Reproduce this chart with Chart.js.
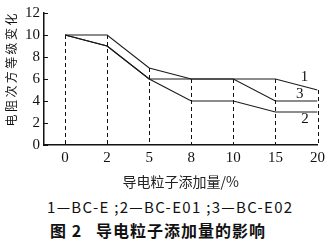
<!DOCTYPE html>
<html>
<head>
<meta charset="utf-8">
<script src="https://cdn.jsdelivr.net/npm/chart.js@4/dist/chart.umd.min.js"></script>
<style>
  body { margin: 0; background: #fff; width: 329px; height: 244px; overflow: hidden; }
  #wrap { position: relative; width: 329px; height: 190px; }
  .legend { position: absolute; left: 47px; top: 196px; font: 15px "Noto Sans CJK SC", sans-serif; letter-spacing: 1.3px; color: #111; white-space: nowrap; }
  .caption { position: absolute; left: 50px; top: 218px; font: bold 16px "Noto Sans CJK SC", sans-serif; letter-spacing: 1px; color: #111; white-space: nowrap; }
  .caption span { margin-left: 14px; }
</style>
</head>
<body>
<div id="wrap"><canvas id="chart" width="329" height="190"></canvas></div>
<div class="legend">1—BC-E ;2—BC-E01 ;3—BC-E02</div>
<div class="caption">图 2<span>导电粒子添加量的影响</span></div>
<script>
// x categories (additive amount, %) and the three curves
const categories = ['0', '2', '5', '8', '10', '15', '20'];
const bcE = [10, 10, 7, 6, 6, 6, 5];      // 1
const bcE01 = [10, 9, 6, 4, 4, 3, 3];     // 2
const bcE02 = [10, 9, 6, 6, 6, 4, 4];     // 3
const yTicks = [0, 2, 4, 6, 8, 10, 12];
// curve number labels near the right end: [text, x index, y value]
const curveLabels = [['1', 5.69, 6.2], ['3', 5.58, 4.6], ['2', 5.7, 2.4]];

const toPoints = arr => arr.map((v, i) => ({ x: i, y: v }));

// dashed drop lines from the top curve down to zero + inside y ticks + curve numbers
const extras = {
  id: 'extras',
  beforeDatasetsDraw(chart) {
    const { ctx, scales: { x, y } } = chart;
    ctx.save();
    ctx.strokeStyle = '#111';
    ctx.lineWidth = 1;
    ctx.setLineDash([4, 3]);
    categories.forEach((c, i) => {
      const top = Math.max(bcE[i], bcE01[i], bcE02[i]);
      const px = Math.round(x.getPixelForValue(i)) + 0.5;
      ctx.beginPath();
      ctx.moveTo(px, y.getPixelForValue(top));
      ctx.lineTo(px, y.getPixelForValue(0));
      ctx.stroke();
    });
    ctx.setLineDash([]);
    // y ticks pointing inward
    yTicks.forEach(v => {
      const py = Math.round(y.getPixelForValue(v)) + 0.5;
      ctx.beginPath();
      ctx.moveTo(x.left, py);
      ctx.lineTo(x.left + 4, py);
      ctx.stroke();
    });
    ctx.restore();
  },
  afterDraw(chart) {
    const { ctx, scales: { x, y } } = chart;
    ctx.save();
    ctx.fillStyle = '#111';
    ctx.font = '15px "Liberation Serif", serif';
    ctx.textAlign = 'center';
    ctx.textBaseline = 'middle';
    curveLabels.forEach(([t, xi, yv]) => {
      ctx.fillText(t, x.getPixelForValue(xi), y.getPixelForValue(yv));
    });
    // rotated y axis title with letter spacing
    const title = '电阻次方等级变化';
    ctx.font = '12px "Noto Sans CJK SC", sans-serif';
    ctx.translate(11, 70);
    ctx.rotate(-Math.PI / 2);
    const step = 14.4;
    const start = -step * (title.length - 1) / 2;
    for (let i = 0; i < title.length; i++) {
      ctx.fillText(title[i], start + i * step, 0);
    }
    ctx.restore();
  }
};

const lineStyle = {
  borderColor: '#1a1a1a',
  borderWidth: 1.1,
  pointRadius: 0,
  fill: false,
  tension: 0
};

new Chart(document.getElementById('chart'), {
  type: 'line',
  data: {
    datasets: [
      { label: 'BC-E', data: toPoints(bcE), ...lineStyle },
      { label: 'BC-E01', data: toPoints(bcE01), ...lineStyle },
      { label: 'BC-E02', data: toPoints(bcE02), ...lineStyle }
    ]
  },
  options: {
    responsive: false,
    animation: false,
    layout: { padding: { top: 10, right: 11, left: 0, bottom: 0 } },
    plugins: { legend: { display: false }, tooltip: { enabled: false } },
    scales: {
      x: {
        type: 'linear',
        min: -0.5,
        max: 6,
        afterBuildTicks: axis => { axis.ticks = categories.map((c, i) => ({ value: i })); },
        afterFit: axis => { axis.height = 45; },
        ticks: {
          callback: v => categories[v],
          color: '#111',
          font: { family: '"Liberation Serif", serif', size: 15 },
          padding: 4,
          maxRotation: 0
        },
        grid: { display: false, drawTicks: false },
        border: { color: '#111', width: 1.5 },
        title: {
          display: true,
          text: '导电粒子添加量/%',
          color: '#222',
          font: { family: '"Noto Sans CJK SC", sans-serif', size: 14 },
          padding: { top: 1, bottom: 0 }
        }
      },
      y: {
        min: 0,
        max: 12,
        afterBuildTicks: axis => { axis.ticks = yTicks.map(v => ({ value: v })); },
        afterFit: axis => { axis.width = 44; },
        ticks: {
          color: '#111',
          font: { family: '"Liberation Serif", serif', size: 15 },
          padding: 4
        },
        grid: { display: false, drawTicks: false },
        border: { color: '#111', width: 1.5 }
      }
    }
  },
  plugins: [extras]
});
</script>
</body>
</html>
